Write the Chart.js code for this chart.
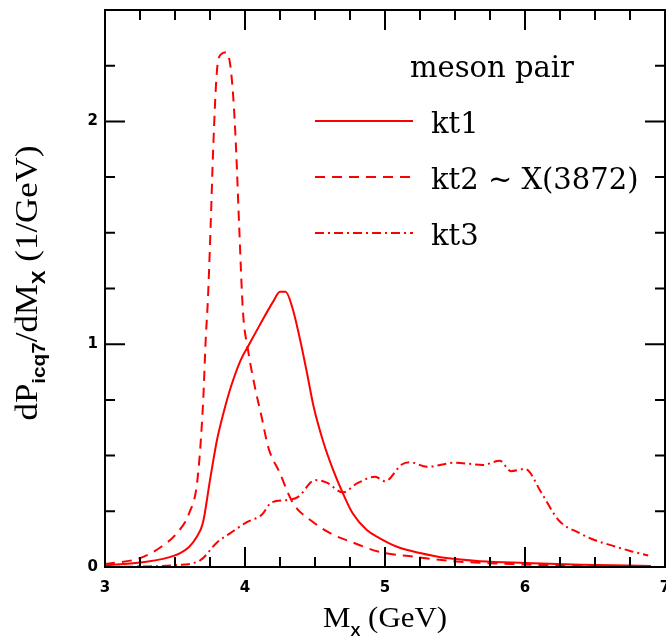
<!DOCTYPE html>
<html lang="en">
<head>
<meta charset="UTF-8">
<title>meson pair</title>
<script src="https://cdn.jsdelivr.net/npm/chart.js@4.4.1/dist/chart.umd.min.js"></script>
</head>
<body style="margin:0; background:#fff;">
<div style="width:666px; height:637px;">
  <canvas id="chart" width="666" height="637"></canvas>
</div>
<script>
// values (M_X in GeV, dP/dM in 1/GeV)
const kt1M = [3.0, 3.25, 3.5, 3.6, 3.65, 3.7, 3.75, 3.8, 3.85, 3.9, 3.97, 4.03, 4.1, 4.2, 4.25, 4.29, 4.34, 4.39, 4.44, 4.49, 4.56, 4.63, 4.7, 4.77, 4.87, 4.96, 5.09, 5.25, 5.44, 5.68, 6.0, 6.4, 6.9];
const kt1Val = [0.008, 0.02, 0.052, 0.09, 0.13, 0.2, 0.39, 0.57, 0.7, 0.81, 0.93, 1.0, 1.08, 1.19, 1.235, 1.235, 1.16, 1.03, 0.88, 0.72, 0.56, 0.435, 0.33, 0.24, 0.166, 0.13, 0.09, 0.063, 0.04, 0.026, 0.018, 0.01, 0.005];

const kt2M = [3.0, 3.25, 3.4, 3.51, 3.6, 3.66, 3.7, 3.72, 3.735, 3.754, 3.773, 3.798, 3.826, 3.869, 3.893, 3.916, 3.936, 3.959, 3.985, 4.02, 4.07, 4.12, 4.165, 4.25, 4.34, 4.49, 4.63, 4.77, 4.96, 5.2, 5.49, 5.91, 6.39, 6.89];
const kt2Val = [0.013, 0.04, 0.09, 0.15, 0.24, 0.39, 0.73, 1.03, 1.2, 1.52, 1.88, 2.215, 2.30, 2.31, 2.26, 2.11, 1.88, 1.52, 1.15, 0.98, 0.81, 0.67, 0.54, 0.42, 0.29, 0.2, 0.145, 0.11, 0.068, 0.047, 0.026, 0.013, 0.006, 0.003];

const kt3M = [3.0, 3.25, 3.5, 3.68, 3.8, 3.89, 4.01, 4.12, 4.19, 4.29, 4.38, 4.5, 4.58, 4.7, 4.8, 4.93, 5.0, 5.12, 5.18, 5.3, 5.5, 5.7, 5.82, 5.9, 6.0, 6.12, 6.24, 6.39, 6.5, 6.63, 6.75, 6.88];
const kt3Val = [0.0, 0.002, 0.008, 0.03, 0.11, 0.15, 0.2, 0.235, 0.29, 0.30, 0.315, 0.39, 0.38, 0.335, 0.375, 0.405, 0.385, 0.46, 0.47, 0.45, 0.468, 0.458, 0.477, 0.43, 0.44, 0.33, 0.21, 0.152, 0.12, 0.095, 0.072, 0.052];

const seriesNames = ['kt1', 'kt2 ~ X(3872)', 'kt3'];
const legendTitle = 'meson pair';
const xTickLabels = ['3', '4', '5', '6', '7'];
const yTickLabels = ['0', '1', '2'];

const RED = '#ff0000';

function pts(xs, ys) {
    return xs.map((x, i) => ({ x: x, y: ys[i] }));
}

// draws text pieces (with subscripts) centred on 0, stretched to a given length
function drawPieces(ctx, pieces, len) {
    let total = 0;
    pieces.forEach(p => { ctx.font = p.font; p.w = ctx.measureText(p.t).width; total += p.w; });
    ctx.scale(len / total, 1);
    let x = -total / 2;
    pieces.forEach(p => {
        ctx.font = p.font;
        ctx.fillText(p.t, x, p.dy || 0);
        x += p.w;
    });
}

const framePlugin = {
    id: 'frame',
    afterDraw(chart) {
        const ctx = chart.ctx;
        const a = chart.chartArea;
        const xs = chart.scales.x, ys = chart.scales.y;
        ctx.save();
        ctx.strokeStyle = '#000';
        ctx.lineWidth = 2;
        ctx.strokeRect(a.left, a.top, a.right - a.left, a.bottom - a.top);

        // inward ticks on all four sides
        ctx.beginPath();
        xs.ticks.forEach(t => {
            const px = xs.getPixelForValue(t.value);
            const len = Number.isInteger(t.value) ? 20 : 10;
            ctx.moveTo(px, a.bottom); ctx.lineTo(px, a.bottom - len);
            ctx.moveTo(px, a.top); ctx.lineTo(px, a.top + len);
        });
        ys.ticks.forEach(t => {
            const py = ys.getPixelForValue(t.value);
            const len = Number.isInteger(t.value) ? 20 : 10;
            ctx.moveTo(a.left, py); ctx.lineTo(a.left + len, py);
            ctx.moveTo(a.right, py); ctx.lineTo(a.right - len, py);
        });
        ctx.stroke();

        // legend
        ctx.fillStyle = '#000';
        ctx.textAlign = 'left';
        ctx.textBaseline = 'alphabetic';
        ctx.font = '29px "DejaVu Serif"';
        ctx.fillText(legendTitle, 410, 77);
        chart.data.datasets.forEach((ds, i) => {
            const ly = 121 + i * 56;
            ctx.strokeStyle = ds.borderColor;
            ctx.lineWidth = 2;
            ctx.setLineDash(ds.borderDash || []);
            ctx.beginPath();
            ctx.moveTo(315, ly); ctx.lineTo(413, ly);
            ctx.stroke();
            ctx.setLineDash([]);
            ctx.fillText(ds.label, 431, ly + 12);
        });

        // axis titles
        ctx.save();
        ctx.translate(385, 627);
        drawPieces(ctx, [
            { t: 'M', font: '29px "Liberation Serif"' },
            { t: 'X', font: 'bold 14px "Liberation Sans"', dy: 9 },
            { t: ' (GeV)', font: '29px "Liberation Serif"' }
        ], 124);
        ctx.restore();

        ctx.save();
        ctx.translate(37, 283);
        ctx.rotate(-Math.PI / 2);
        drawPieces(ctx, [
            { t: 'dP', font: '32px "Liberation Serif"' },
            { t: 'icq7', font: 'bold 19px "Liberation Sans"', dy: 8 },
            { t: '/dM', font: '32px "Liberation Serif"' },
            { t: 'X', font: 'bold 19px "Liberation Sans"', dy: 8 },
            { t: ' (1/GeV)', font: '32px "Liberation Serif"' }
        ], 275);
        ctx.restore();
        ctx.restore();
    }
};

const tickFont = { family: 'DejaVu Sans', weight: 'bold', size: 15 };

new Chart(document.getElementById('chart'), {
    type: 'line',
    data: {
        datasets: [
            { label: seriesNames[0], data: pts(kt1M, kt1Val), borderColor: RED, borderWidth: 2, borderDash: [] },
            { label: seriesNames[1], data: pts(kt2M, kt2Val), borderColor: RED, borderWidth: 2, borderDash: [10, 7] },
            { label: seriesNames[2], data: pts(kt3M, kt3Val), borderColor: RED, borderWidth: 2, borderDash: [9, 4, 2, 4] }
        ]
    },
    options: {
        responsive: false,
        animation: false,
        events: [],
        layout: { padding: { top: 10, right: 1, left: 0, bottom: 0 } },
        elements: {
            point: { radius: 0 },
            line: { cubicInterpolationMode: 'monotone', fill: false }
        },
        plugins: {
            legend: { display: false },
            tooltip: { enabled: false }
        },
        scales: {
            x: {
                type: 'linear',
                min: 3, max: 7,
                grid: { display: false, drawTicks: false },
                border: { display: false },
                ticks: {
                    stepSize: 0.25,
                    autoSkip: false,
                    maxRotation: 0,
                    padding: 12,
                    color: '#000',
                    font: tickFont,
                    callback: v => xTickLabels.includes(String(v)) ? String(v) : ''
                },
                afterFit: s => { s.height = 70; s.paddingLeft = 0; s.paddingRight = 0; }
            },
            y: {
                type: 'linear',
                min: 0, max: 2.5,
                grid: { display: false, drawTicks: false },
                border: { display: false },
                ticks: {
                    stepSize: 0.25,
                    autoSkip: false,
                    padding: 7,
                    color: '#000',
                    font: tickFont,
                    callback: v => yTickLabels.includes(String(v)) ? String(v) : ''
                },
                afterFit: s => { s.width = 105; s.paddingTop = 0; s.paddingBottom = 0; }
            }
        }
    },
    plugins: [framePlugin]
});
</script>
</body>
</html>
